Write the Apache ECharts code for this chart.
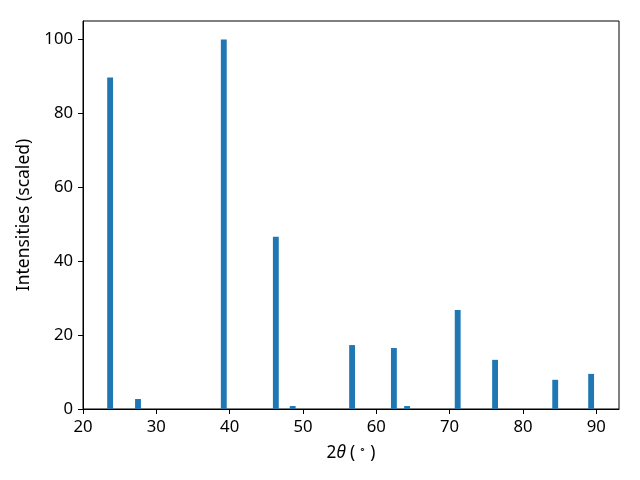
<!DOCTYPE html>
<html><head><meta charset="utf-8">
<script src="https://cdn.jsdelivr.net/npm/echarts@6/dist/echarts.min.js"></script>
<style>html,body{margin:0;padding:0;background:#fff}#c{width:640px;height:480px}</style>
</head><body><div id="c"></div>
<script>
const twoTheta = [23.7, 27.5, 39.2, 46.3, 48.6, 56.7, 62.4, 64.2, 71.1, 76.2, 84.4, 89.3];
const intensity = [89.7, 2.7, 100, 46.6, 0.8, 17.3, 16.5, 0.8, 26.8, 13.3, 7.9, 9.5];
const xTicks = [20, 30, 40, 50, 60, 70, 80, 90];
const yTicks = [0, 20, 40, 60, 80, 100];
const barWidth = 0.8;

const data = twoTheta.map((x, i) => [x, intensity[i]]);
const font = 'Noto Sans';
const fs = 16.7;
const chart = echarts.init(document.getElementById('c'), null, {renderer: 'canvas'});
chart.setOption({
  animation: false,
  grid: {left: 83, right: 21, top: 21, bottom: 71, show: true, borderColor: '#000', borderWidth: 1},
  xAxis: {
    type: 'value', min: 20, max: 93.1,
    axisLine: {show: true, lineStyle: {color: '#000', width: 1}},
    axisTick: {show: true, length: 5, customValues: xTicks, lineStyle: {color: '#000'}},
    axisLabel: {customValues: xTicks, color: '#000', fontFamily: font, fontSize: fs, margin: 10},
    splitLine: {show: false},
    name: '{n|2}{i|θ}{n| (}{s|∘}{n|)}', nameLocation: 'middle', nameGap: 35,
    nameTextStyle: {color: '#000', fontFamily: font, fontSize: fs,
      rich: {n: {fontFamily: font, fontSize: 17.2, color: '#000'},
             i: {fontFamily: font, fontSize: 17.2, fontStyle: 'italic', color: '#000'},
             s: {fontFamily: font, fontSize: 11, color: '#000', verticalAlign: 'top', padding: [0,4,8,4]}}}
  },
  yAxis: {
    type: 'value', min: 0, max: 105,
    axisLine: {show: true, lineStyle: {color: '#000', width: 1}},
    axisTick: {show: true, length: 5, customValues: yTicks, lineStyle: {color: '#000'}},
    axisLabel: {customValues: yTicks, color: '#000', fontFamily: font, fontSize: fs, margin: 10},
    splitLine: {show: false},
    name: 'Intensities (scaled)', nameLocation: 'middle', nameGap: 44, nameRotate: 90,
    nameTextStyle: {color: '#000', fontFamily: font, fontSize: 17.5}
  },
  series: [{
    type: 'custom',
    data: data,
    renderItem: function (params, api) {
      const x = api.value(0), y = api.value(1);
      const p0 = api.coord([x - barWidth / 2, y]);
      const p1 = api.coord([x + barWidth / 2, 0]);
      return {type: 'rect', shape: {x: p0[0], y: p0[1], width: p1[0] - p0[0], height: p1[1] - p0[1]},
              style: {fill: '#1f77b4'}};
    }
  }]
});
</script></body></html>
